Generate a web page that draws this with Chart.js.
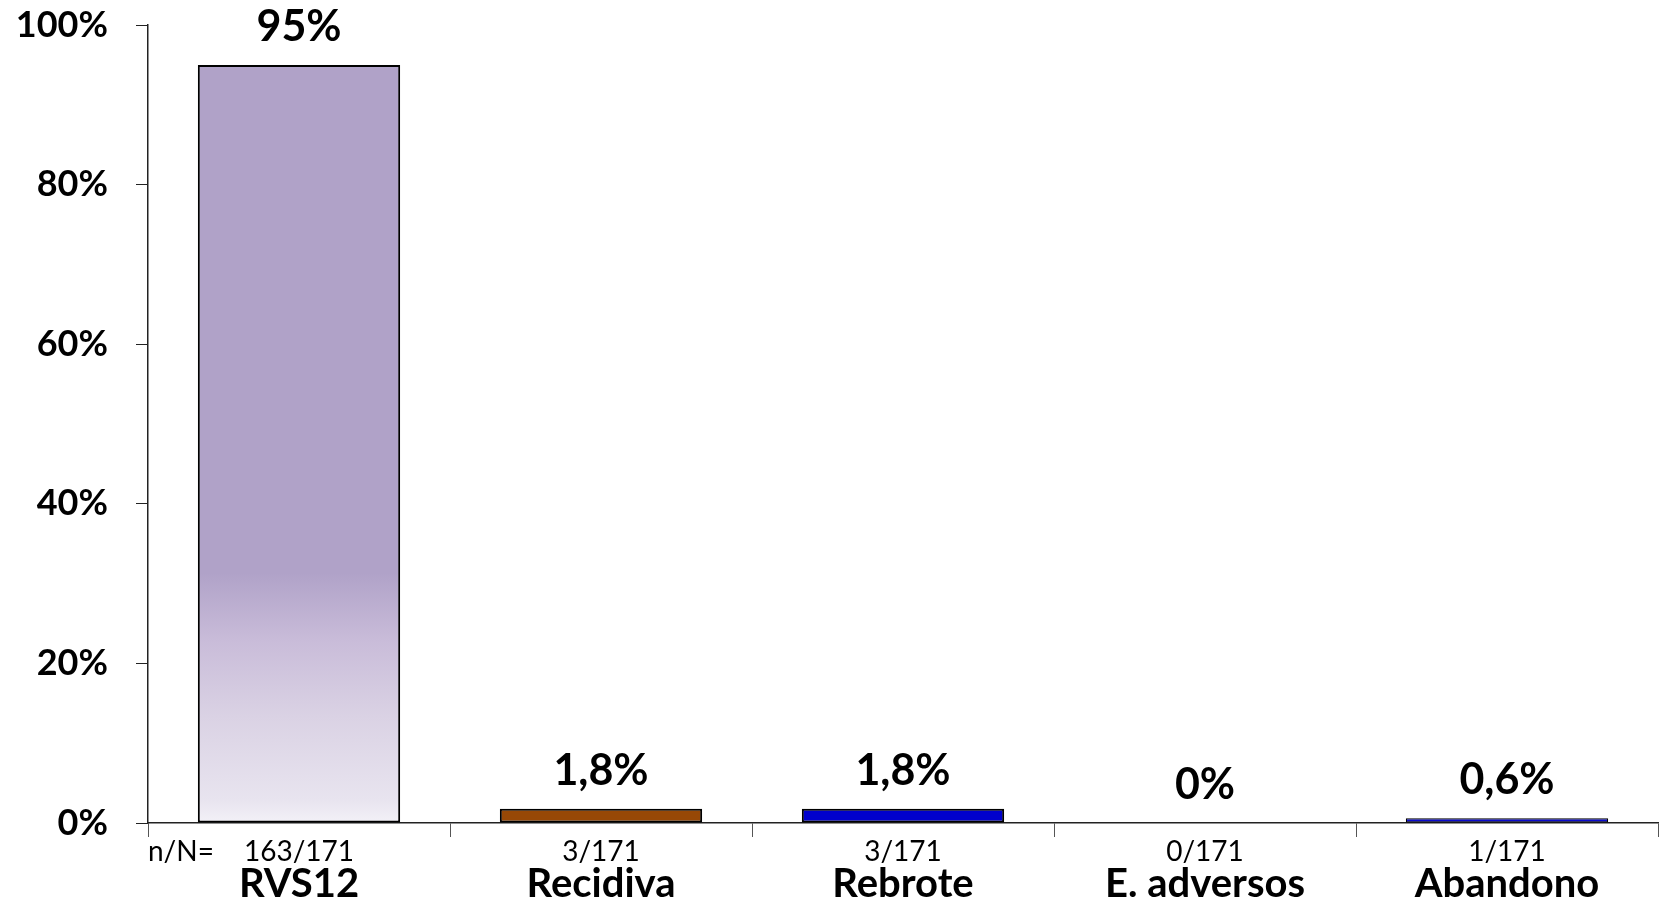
<!DOCTYPE html>
<html lang="es">
<head>
<meta charset="utf-8">
<title>Resultados del tratamiento</title>
<script src="https://cdn.jsdelivr.net/npm/chart.js@4.4.1/dist/chart.umd.min.js"></script>
<style>
  html, body { margin: 0; padding: 0; background: #ffffff; }
  #wrap { width: 1663px; height: 904px; position: relative; }
</style>
</head>
<body>
<div id="wrap"><canvas id="chart"></canvas></div>
<script>
// Outcome categories, patient counts and percentages
const categories = ['RVS12', 'Recidiva', 'Rebrote', 'E. adversos', 'Abandono'];
const counts = ['163/171', '3/171', '3/171', '0/171', '1/171'];
const percentages = [95, 1.8, 1.8, 0, 0.6];
const yTicks = [0, 20, 40, 60, 80, 100];
const countPrefix = 'n/N=';

const FONT = 'Lato, "Open Sans", sans-serif';
const solidColors = [null, '#974806', '#0000CC', '#0000CC', '#0A0ACC'];
const borderWidths = [2, 2, 2, 2, 1.2];

const X_TICK_LEN = 14;
const X_PAD = 1;
const COUNT_SIZE = 28;

// First bar fades from pale lilac at the base to solid lilac higher up
function barColor(ctx) {
  const i = ctx.dataIndex;
  if (i !== 0) return solidColors[i];
  const y = ctx.chart.scales.y;
  if (!y || y.bottom === undefined) return '#B0A2C8';
  const y0 = y.getPixelForValue(0);
  const y1 = y.getPixelForValue(percentages[0]);
  if (!isFinite(y0) || !isFinite(y1)) return '#B0A2C8';
  const g = ctx.chart.ctx.createLinearGradient(0, y0, 0, y1);
  g.addColorStop(0, '#F3F1F7');
  g.addColorStop(0.03, '#E8E4EF');
  g.addColorStop(0.14, '#DAD2E4');
  g.addColorStop(0.24, '#C9BCD9');
  g.addColorStop(0.33, '#B0A2C8');
  g.addColorStop(1, '#B0A2C8');
  return g;
}

function pct(v) {
  return String(v).replace('.', ',') + '%';
}

// Value labels above each bar
const valueLabels = {
  id: 'valueLabels',
  afterDatasetsDraw(chart) {
    const c = chart.ctx;
    const meta = chart.getDatasetMeta(0);
    c.save();
    c.font = 'bold 43px ' + FONT;
    c.fillStyle = '#000';
    c.textAlign = 'center';
    c.textBaseline = 'alphabetic';
    meta.data.forEach((bar, i) => {
      c.fillText(pct(percentages[i]), bar.x, bar.y - 24);
    });
    c.restore();
  }
};

// "n/N=" caption at the start of the count row
const countCaption = {
  id: 'countCaption',
  afterDraw(chart) {
    const x = chart.scales.x;
    const c = chart.ctx;
    c.save();
    c.font = COUNT_SIZE + 'px ' + FONT;
    c.fillStyle = '#000';
    c.textAlign = 'left';
    c.textBaseline = 'middle';
    c.fillText(countPrefix, x.left, x.top + X_TICK_LEN + X_PAD + COUNT_SIZE / 2);
    c.restore();
  }
};

new Chart(document.getElementById('chart'), {
  type: 'bar',
  data: {
    labels: counts,
    datasets: [{
      data: percentages,
      backgroundColor: barColor,
      borderColor: '#000',
      borderWidth: borderWidths,
      borderSkipped: false,
      categoryPercentage: 1,
      barPercentage: 0.67
    }]
  },
  options: {
    responsive: true,
    maintainAspectRatio: false,
    animation: false,
    layout: { padding: { top: 0, right: 5, left: 0, bottom: 0 } },
    plugins: { legend: { display: false }, tooltip: { enabled: false } },
    scales: {
      x: {
        type: 'category',
        position: 'bottom',
        offset: true,
        afterFit(scale) { scale.height = 44; },
        grid: { display: true, offset: true, drawOnChartArea: false, drawTicks: true, tickLength: X_TICK_LEN, color: '#555', lineWidth: 1 },
        border: { display: true, color: '#222', width: 1.5 },
        ticks: { font: { family: FONT, size: COUNT_SIZE, lineHeight: 1 }, color: '#000', padding: X_PAD, maxRotation: 0, autoSkip: false }
      },
      x2: {
        type: 'category',
        position: 'bottom',
        labels: categories,
        offset: true,
        afterFit(scale) { scale.height = 37; },
        grid: { display: false, drawTicks: false },
        border: { display: false },
        ticks: { font: { family: FONT, size: 40, weight: 'bold', lineHeight: 1 }, color: '#000', padding: -3, maxRotation: 0, autoSkip: false }
      },
      y: {
        min: 0,
        max: 100,
        afterFit(scale) {
          scale.width = 148;
          scale.paddingTop = 25;
          scale.paddingBottom = 0;
        },
        afterBuildTicks(scale) { scale.ticks = yTicks.map(v => ({ value: v })); },
        grid: { drawOnChartArea: false, drawTicks: true, tickLength: 12, color: '#222', lineWidth: 1 },
        border: { display: true, color: '#222', width: 1.5 },
        ticks: {
          font: { family: FONT, size: 36, weight: 'bold' },
          color: '#000',
          padding: 28,
          callback: v => v + '%'
        }
      }
    }
  },
  plugins: [valueLabels, countCaption]
});
</script>
</body>
</html>
